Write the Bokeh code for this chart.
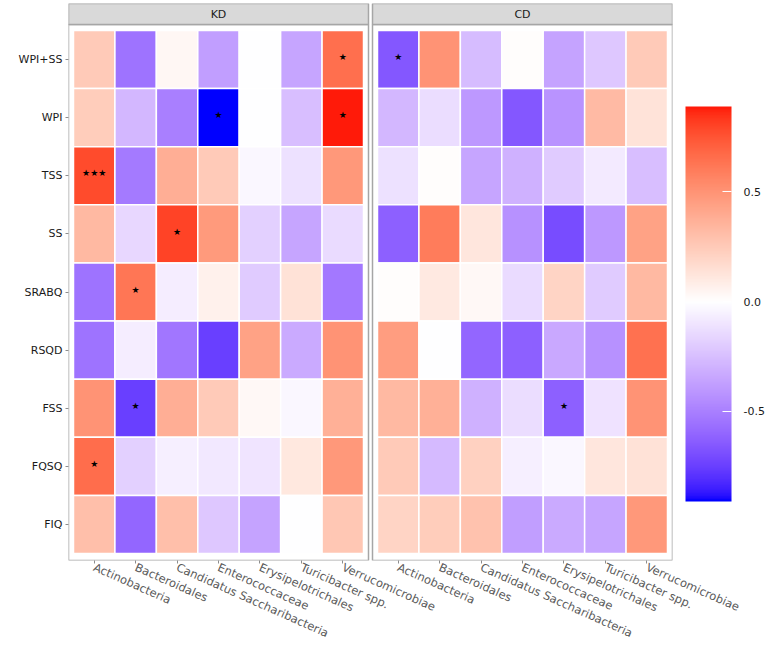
import numpy as np
from bokeh.plotting import figure
from bokeh.models import (ColumnDataSource, LinearColorMapper, ColorBar, FixedTicker,
                          PrintfTickFormatter, Range1d)
from bokeh.transform import transform
from bokeh.core.properties import value
from bokeh.embed import file_html
from bokeh.resources import INLINE

# ---------------- data ----------------
rows = ["WPI+SS", "WPI", "TSS", "SS", "SRABQ", "RSQD", "FSS", "FQSQ", "FIQ"]
taxa = ["Actinobacteria", "Bacteroidales", "Candidatus Saccharibacteria",
        "Enterococcaceae", "Erysipelotrichales", "Turicibacter spp.", "Verrucomicrobiae"]
panels = ["KD", "CD"]

kd_values = [
    [0.25, -0.55, 0.04, -0.38, 0.00, -0.35, 0.65],    # WPI+SS
    [0.24, -0.28, -0.50, -0.91, 0.00, -0.25, 0.886],  # WPI
    [0.78, -0.52, 0.38, 0.25, -0.03, -0.12, 0.48],    # TSS
    [0.33, -0.15, 0.80, 0.47, -0.18, -0.35, -0.14],   # SS
    [-0.55, 0.62, -0.07, 0.07, -0.20, 0.14, -0.53],   # SRABQ
    [-0.55, -0.07, -0.54, -0.75, 0.44, -0.33, 0.50],  # RSQD
    [0.50, -0.75, 0.38, 0.25, 0.03, -0.03, 0.37],     # FSS
    [0.66, -0.18, -0.06, -0.09, -0.10, 0.11, 0.48],   # FQSQ
    [0.30, -0.60, 0.30, -0.22, -0.36, 0.00, 0.27],    # FIQ
]
cd_values = [
    [-0.66, 0.50, -0.26, 0.01, -0.36, -0.22, 0.25],   # WPI+SS
    [-0.28, -0.13, -0.40, -0.66, -0.42, 0.32, 0.13],  # WPI
    [-0.12, 0.01, -0.35, -0.30, -0.20, -0.08, -0.25], # TSS
    [-0.62, 0.60, 0.12, -0.43, -0.70, -0.40, 0.44],   # SS
    [0.01, 0.10, 0.03, -0.14, 0.20, -0.20, 0.33],     # SRABQ
    [0.46, 0.00, -0.60, -0.62, -0.34, -0.43, 0.64],   # RSQD
    [0.33, 0.37, -0.30, -0.13, -0.62, -0.11, 0.50],   # FSS
    [0.25, -0.27, 0.22, -0.06, -0.03, 0.12, 0.14],    # FQSQ
    [0.20, 0.24, 0.29, -0.38, -0.33, -0.35, 0.48],    # FIQ
]
kd_sig = [
    ["", "", "", "", "", "", "*"],
    ["", "", "", "*", "", "", "*"],
    ["***", "", "", "", "", "", ""],
    ["", "", "*", "", "", "", ""],
    ["", "*", "", "", "", "", ""],
    ["", "", "", "", "", "", ""],
    ["", "*", "", "", "", "", ""],
    ["*", "", "", "", "", "", ""],
    ["", "", "", "", "", "", ""],
]
cd_sig = [
    ["*", "", "", "", "", "", ""],
    ["", "", "", "", "", "", ""],
    ["", "", "", "", "", "", ""],
    ["", "", "", "", "", "", ""],
    ["", "", "", "", "", "", ""],
    ["", "", "", "", "", "", ""],
    ["", "", "", "", "*", "", ""],
    ["", "", "", "", "", "", ""],
    ["", "", "", "", "", "", ""],
]
cbar_ticks = [-0.5, 0.0, 0.5]
data_low, data_high = -0.91, 0.886

# ---------------- colour scale (Lab interpolation like ggplot gradient2) ----------------
def hex_to_lab(h):
    r, g, b = [int(h[i:i + 2], 16) / 255 for i in (1, 3, 5)]
    def lin(c):
        return c / 12.92 if c <= 0.04045 else ((c + 0.055) / 1.055) ** 2.4
    r, g, b = lin(r), lin(g), lin(b)
    X = 0.4124564 * r + 0.3575761 * g + 0.1804375 * b
    Y = 0.2126729 * r + 0.7151522 * g + 0.0721750 * b
    Z = 0.0193339 * r + 0.1191920 * g + 0.9503041 * b
    Xn, Yn, Zn = 0.95047, 1.0, 1.08883
    def f(t):
        return t ** (1 / 3) if t > 216 / 24389 else (24389 / 27 * t + 16) / 116
    fx, fy, fz = f(X / Xn), f(Y / Yn), f(Z / Zn)
    return (116 * fy - 16, 500 * (fx - fy), 200 * (fy - fz))

def lab_to_hex(L, a, b):
    fy = (L + 16) / 116
    fx = fy + a / 500
    fz = fy - b / 200
    def finv(t):
        return t ** 3 if t ** 3 > 216 / 24389 else (116 * t - 16) / (24389 / 27)
    Xn, Yn, Zn = 0.95047, 1.0, 1.08883
    X, Y, Z = Xn * finv(fx), Yn * finv(fy), Zn * finv(fz)
    r = 3.2404542 * X - 1.5371385 * Y - 0.4985314 * Z
    g = -0.9692660 * X + 1.8760108 * Y + 0.0415560 * Z
    bb = 0.0556434 * X - 0.2040259 * Y + 1.0572252 * Z
    def gam(c):
        c = min(max(c, 0.0), 1.0)
        return 12.92 * c if c <= 0.0031308 else 1.055 * c ** (1 / 2.4) - 0.055
    return "#%02x%02x%02x" % tuple(int(round(gam(c) * 255)) for c in (r, g, bb))

low_lab, mid_lab, high_lab = hex_to_lab("#0000ff"), hex_to_lab("#ffffff"), hex_to_lab("#ff0000")
palette = []
for v in np.linspace(-1, 1, 256):
    end = low_lab if v < 0 else high_lab
    t = abs(v)
    palette.append(lab_to_hex(*[m + (e - m) * t for m, e in zip(mid_lab, end)]))
M = max(abs(data_low), abs(data_high))
mapper = LinearColorMapper(palette=palette, low=-M, high=M)

# ---------------- geometry (in category units) ----------------
PX_X = 290 / 7
PX_Y = 523 / 9
pad_x = 5 / PX_X
gap_x = 4 / PX_X
offset = 7 + 2 * pad_x + gap_x
pad_top = 6 / PX_Y
pad_bot = 7 / PX_Y
strip_h = 21 / PX_Y
x_start = 0.5 - pad_x
x_end = offset + 7.5 + pad_x
y_start = 0.5 - pad_bot
panel_top = 9.5 + pad_top
strip_top = panel_top + strip_h

xs, ys, vals = [], [], []
sx, sy, stext = [], [], []
for k, (vals_tab, sig_tab) in enumerate([(kd_values, kd_sig), (cd_values, cd_sig)]):
    for i, r in enumerate(rows):
        for j, t in enumerate(taxa):
            x = round(j + 1 + k * offset, 4)
            y = 9 - i
            xs.append(x); ys.append(y); vals.append(vals_tab[i][j])
            if sig_tab[i][j]:
                sx.append(x); sy.append(y + 0.04)
                stext.append("\u2605" * len(sig_tab[i][j]))

src = ColumnDataSource(dict(x=xs, y=ys, val=vals))

p = figure(frame_width=604, frame_height=557, output_backend="svg", toolbar_location=None,
           x_range=Range1d(x_start, x_end), y_range=Range1d(y_start, strip_top),
           min_border_left=68, min_border_right=100, min_border_top=3, min_border_bottom=0)
p.background_fill_color = "white"
p.border_fill_color = "white"
p.outline_line_color = None
p.xgrid.visible = False
p.ygrid.visible = False

p.rect(x="x", y="y", width=1, height=1, source=src,
       fill_color=transform("val", mapper), line_color="white", line_width=1.5)

# panel borders and strips
lefts = [x_start + k * (offset) for k in range(2)]
rights = [l + 7 + 2 * pad_x for l in lefts]
p.quad(left=lefts, right=rights, bottom=[y_start] * 2, top=[panel_top] * 2,
       fill_color=None, line_color="#a6a6a6", line_width=1.5)
p.quad(left=lefts, right=rights, bottom=[panel_top] * 2, top=[strip_top] * 2,
       fill_color="#d9d9d9", line_color="#a6a6a6", line_width=1.5)
p.text(x=[(l + r) / 2 for l, r in zip(lefts, rights)], y=[(panel_top + strip_top) / 2] * 2,
       text=panels, text_align="center", text_baseline="middle",
       text_font=value("DejaVu Sans"), text_font_size="11px", text_color="#1a1a1a")

p.text(x=sx, y=sy, text=stext, text_align="center", text_baseline="middle",
       text_font=value("DejaVu Sans"), text_font_size="9px", text_color="black")

# axes
ytick = list(range(1, 10))
p.yaxis.ticker = FixedTicker(ticks=ytick)
p.yaxis.major_label_overrides = {9 - i: r for i, r in enumerate(rows)}
xtick = [round(j + 1 + k * offset, 4) for k in range(2) for j in range(7)]
p.xaxis.ticker = FixedTicker(ticks=xtick)
p.xaxis.major_label_overrides = {xt: taxa[n % 7] for n, xt in enumerate(xtick)}
p.xaxis.major_label_orientation = -24 * np.pi / 180
for ax in (p.xaxis[0], p.yaxis[0]):
    ax.axis_line_color = None
    ax.major_tick_in = 0
    ax.major_tick_out = 3
    ax.minor_tick_line_color = None
    ax.major_tick_line_color = "#8c8c8c"
    ax.major_label_text_font = "DejaVu Sans"
    ax.major_label_standoff = 3
p.yaxis.major_label_text_font_size = "11px"
p.xaxis.major_label_text_font_size = "11.5px"
p.yaxis.major_label_text_color = "#1a1a1a"
p.xaxis.major_label_text_color = "#595959"

cb = ColorBar(color_mapper=mapper, ticker=FixedTicker(ticks=cbar_ticks),
              formatter=PrintfTickFormatter(format="%.1f"),
              width=46, height=395, location=(13, 59), padding=0, margin=0,
              border_line_color=None, background_fill_color=None, bar_line_color=None,
              major_tick_line_color="white", major_tick_in=9, major_tick_out=0,
              label_standoff=12, major_label_text_font_size="11px",
              major_label_text_font="DejaVu Sans", major_label_text_color="#1a1a1a",
              display_low=data_low, display_high=data_high)
p.add_layout(cb, "right")

open("out.html", "w").write(file_html(p, INLINE))
